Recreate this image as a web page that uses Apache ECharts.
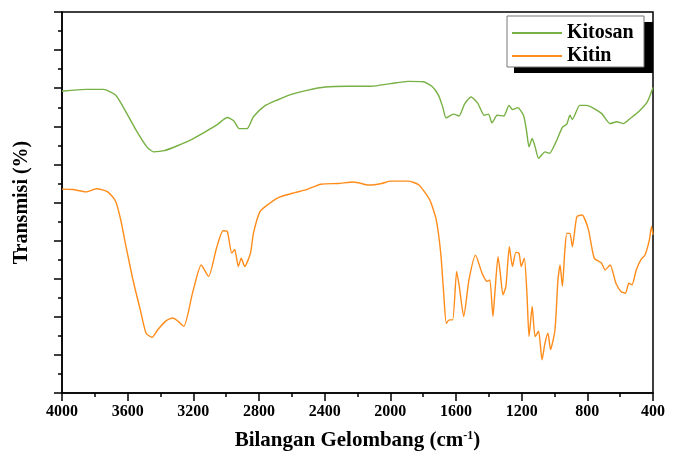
<!DOCTYPE html>
<html>
<head>
<meta charset="utf-8">
<script src="https://cdn.jsdelivr.net/npm/echarts@6/dist/echarts.min.js"></script>
<style>
  html, body { margin: 0; padding: 0; background: #fff; }
  #chart { width: 682px; height: 459px; }
</style>
</head>
<body>
<div id="chart"></div>
<script>
// wavenumber (cm-1) and transmission
const kitosanWn = [4000, 3854, 3748, 3674, 3616, 3549, 3483, 3443, 3377, 3297, 3218, 3138, 3059, 2993, 2953, 2921, 2873, 2834, 2767, 2688, 2608, 2502, 2396, 2264, 2118, 1999, 1892, 1800, 1747, 1707, 1681, 1660, 1615, 1582, 1548, 1508, 1468, 1428, 1402, 1381, 1349, 1309, 1277, 1256, 1224, 1189, 1171, 1155, 1136, 1118, 1097, 1058, 1031, 991, 952, 925, 906, 891, 846, 806, 714, 661, 621, 581, 541, 488, 435, 400];
const kitosanT = [79.2, 79.7, 79.7, 78.2, 74.2, 69.0, 64.6, 63.3, 63.6, 64.9, 66.4, 68.3, 70.3, 72.3, 71.4, 69.4, 69.4, 72.5, 75.3, 76.9, 78.3, 79.5, 80.3, 80.5, 80.5, 81.2, 81.8, 81.7, 80.5, 78.2, 75.1, 72.2, 73.2, 72.7, 75.8, 77.7, 76.1, 72.9, 73.2, 70.9, 72.9, 72.7, 75.5, 74.4, 74.9, 72.9, 69.0, 64.6, 66.8, 64.6, 61.6, 63.3, 62.9, 65.9, 69.7, 70.6, 72.9, 71.8, 75.5, 75.5, 73.4, 70.7, 71.2, 70.7, 72.0, 73.8, 76.4, 80.2];

const kitinWn = [4000, 3934, 3854, 3788, 3722, 3674, 3642, 3610, 3563, 3523, 3488, 3451, 3417, 3364, 3324, 3292, 3258, 3205, 3152, 3107, 3059, 3019, 2993, 2966, 2948, 2926, 2908, 2887, 2852, 2834, 2794, 2741, 2675, 2582, 2515, 2423, 2317, 2224, 2131, 2052, 1999, 1892, 1826, 1760, 1720, 1693, 1675, 1659, 1641, 1620, 1596, 1580, 1553, 1521, 1481, 1441, 1410, 1394, 1375, 1362, 1344, 1330, 1314, 1296, 1275, 1256, 1235, 1216, 1203, 1184, 1168, 1155, 1136, 1118, 1097, 1076, 1058, 1040, 1024, 997, 979, 966, 952, 938, 925, 906, 891, 864, 832, 793, 758, 714, 692, 661, 626, 594, 568, 547, 528, 502, 475, 449, 422, 409, 400];
const kitinT = [53.5, 53.4, 52.8, 53.6, 52.8, 50.4, 45.4, 38.4, 28.8, 21.8, 15.7, 14.6, 16.6, 19.0, 19.7, 18.8, 17.5, 26.2, 33.6, 30.6, 38.0, 42.6, 42.4, 36.7, 37.7, 33.2, 35.4, 33.2, 36.7, 41.9, 47.6, 49.6, 51.4, 52.6, 53.3, 54.8, 55.0, 55.4, 54.6, 55.0, 55.6, 55.6, 54.6, 50.7, 45.4, 36.7, 26.2, 18.3, 19.2, 19.2, 31.9, 28.0, 20.1, 29.7, 36.2, 31.4, 29.3, 29.7, 20.1, 27.0, 35.8, 31.4, 25.8, 28.0, 38.4, 33.2, 36.9, 36.7, 33.2, 35.4, 26.2, 14.8, 22.7, 14.8, 16.2, 8.7, 13.1, 15.7, 11.4, 16.6, 29.7, 33.6, 28.0, 36.7, 41.9, 41.9, 38.4, 46.3, 46.7, 42.8, 35.4, 34.1, 32.3, 33.6, 28.8, 26.6, 26.2, 28.8, 28.4, 32.3, 34.9, 36.2, 40.2, 43.7, 41.5];

const seriesNames = ['Kitosan', 'Kitin'];
const seriesColors = ['#77b043', '#ff8c1a'];

const pairs = (xs, ys) => xs.map((x, i) => [x, ys[i]]);

const serif = '"Liberation Serif", "DejaVu Serif", serif';
const chart = echarts.init(document.getElementById('chart'));

chart.setOption({
  animation: false,
  grid: {
    left: 62, right: 29, top: 12, bottom: 66,
    show: true, borderColor: '#000', borderWidth: 1.5
  },
  // legend frame with its offset black shadow
  graphic: [
    { type: 'rect', z: 10, shape: { x: 514, y: 22, width: 139, height: 51 }, style: { fill: '#000' } },
    { type: 'rect', z: 11, shape: { x: 507, y: 16, width: 137, height: 51 }, style: { fill: '#fff', stroke: '#777', lineWidth: 1 } }
  ],
  legend: {
    left: 512, top: 23, z: 20,
    orient: 'vertical',
    icon: 'rect',
    itemWidth: 50, itemHeight: 2, itemGap: 3,
    padding: 0,
    textStyle: { fontFamily: serif, fontWeight: 'bold', fontSize: 20, color: '#000' },
    data: seriesNames
  },
  xAxis: {
    type: 'value',
    inverse: true,
    min: 400, max: 4000, interval: 400,
    name: '{t|Bilangan Gelombang (cm}{s|-1}{t|)}',
    nameLocation: 'middle', nameGap: 37,
    nameTextStyle: {
      rich: {
        t: { fontFamily: serif, fontWeight: 'bold', fontSize: 21, color: '#000' },
        s: { fontFamily: serif, fontWeight: 'bold', fontSize: 12, color: '#000', verticalAlign: 'top', padding: [0, 0, 10, 0] }
      }
    },
    axisLine: { lineStyle: { color: '#000', width: 1.5 } },
    axisTick: { show: true, length: 8, lineStyle: { color: '#000', width: 1.5 } },
    minorTick: { show: true, splitNumber: 2, length: 4, lineStyle: { color: '#000', width: 1.5 } },
    axisLabel: {
      fontFamily: serif, fontWeight: 'bold', fontSize: 16, color: '#000', margin: 11,
      formatter: v => String(v)
    },
    splitLine: { show: false }
  },
  yAxis: {
    type: 'value',
    min: 0, max: 100, interval: 10,
    name: 'Transmisi (%)',
    nameLocation: 'middle', nameGap: 30, nameRotate: 90,
    nameTextStyle: { fontFamily: serif, fontWeight: 'bold', fontSize: 20, color: '#000' },
    axisLine: { lineStyle: { color: '#000', width: 1.5 } },
    axisTick: { show: true, length: 8, lineStyle: { color: '#000', width: 1.5 } },
    minorTick: { show: true, splitNumber: 2, length: 4, lineStyle: { color: '#000', width: 1.5 } },
    axisLabel: { show: false },
    splitLine: { show: false }
  },
  series: [
    {
      name: seriesNames[0], type: 'line', symbol: 'none', smooth: 0.2,
      color: seriesColors[0], lineStyle: { width: 1.4 },
      data: pairs(kitosanWn, kitosanT)
    },
    {
      name: seriesNames[1], type: 'line', symbol: 'none', smooth: 0.2,
      color: seriesColors[1], lineStyle: { width: 1.4 },
      data: pairs(kitinWn, kitinT)
    }
  ]
});
</script>
</body>
</html>
